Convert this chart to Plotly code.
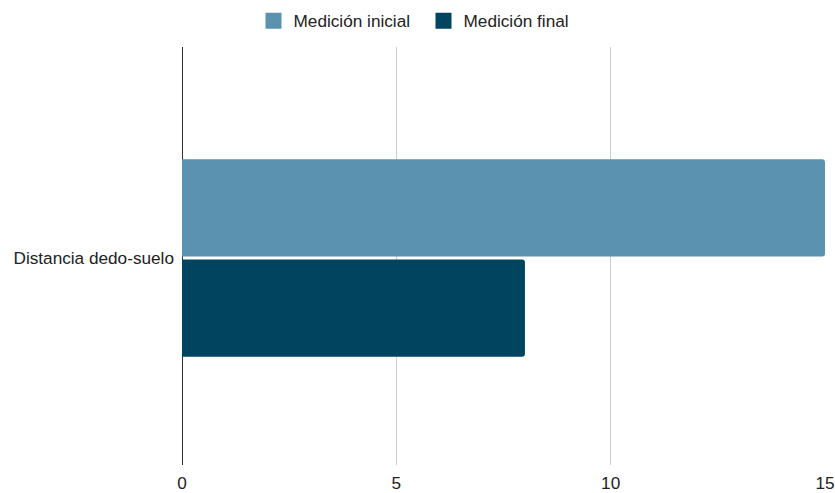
import plotly.graph_objects as go

categories = ["Distancia dedo-suelo"]
series_names = ["Medición inicial", "Medición final"]
inicial = [15]
final = [8]
colors = ["#5a92b0", "#00445f"]
x_ticks = [0, 5, 10, 15]

fig = go.Figure()
for name, vals, col in zip(series_names, [inicial, final], colors):
    fig.add_trace(go.Bar(
        y=categories, x=vals, orientation="h", name=name,
        marker=dict(color=col, cornerradius=3, line=dict(width=0)),
        showlegend=False,
    ))
# legend proxies with larger square markers
for name, col in zip(series_names, colors):
    fig.add_trace(go.Scatter(
        x=[None], y=[None], mode="markers", name=name,
        marker=dict(symbol="square", size=19, color=col),
        showlegend=True,
    ))

FS = 17.2
shift = 2 / 418
fig.update_layout(
    width=835, height=493,
    margin=dict(l=182, r=10, t=47, b=28, autoexpand=False),
    paper_bgcolor="white", plot_bgcolor="white",
    font=dict(family="Liberation Sans, Arial, sans-serif", size=FS, color="#222222"),
    barmode="group", bargap=0.52, bargroupgap=0.03,
    legend=dict(orientation="h", x=0.5 + 6 / 835, xanchor="center", y=1 - 3 / 493, yanchor="top",
                xref="container", yref="container",
                font=dict(size=FS, color="#222222"), itemwidth=30,
                entrywidth=125, entrywidthmode="pixels",
                traceorder="normal"),
    xaxis=dict(range=[0, 15], tickvals=x_ticks, showgrid=True, gridcolor="#cccccc",
               gridwidth=1, zeroline=True, zerolinecolor="#333333", zerolinewidth=1,
               showline=False, ticks="", automargin=False, ticklabelstandoff=6,
               tickfont=dict(size=FS, color="#222222")),
    yaxis=dict(range=[0.5 - shift, -0.5 - shift], showgrid=False, zeroline=False, showline=False,
               ticks="", automargin=False, ticklabelstandoff=7,
               tickfont=dict(size=FS, color="#222222")),
)
fig.write_html("out.html", config={"displayModeBar": False},
               post_script="document.body.style.margin='0px';")
